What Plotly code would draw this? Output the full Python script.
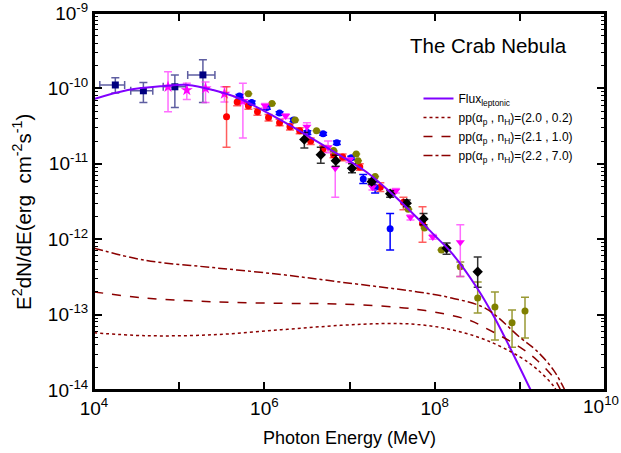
import plotly.graph_objects as go

# ---------------- data ----------------
# leptonic model curve
lep_E = [1e4, 2.5e4, 6.3e4, 1.26e5, 2.5e5, 5.0e5, 1.0e6, 2.5e6, 6.3e6, 1.58e7,
         3.16e7, 6.3e7, 1.0e8, 1.58e8, 3.16e8, 5.0e8, 7.9e8, 1.41e9]
lep_F = [7.2e-11, 9.5e-11, 1.07e-10, 1.11e-10, 9.5e-11, 7.4e-11, 5.0e-11, 2.8e-11,
         1.48e-11, 7.8e-12, 4.0e-12, 1.9e-12, 1.12e-12, 6.6e-13, 2.24e-13, 9.3e-14,
         3.4e-14, 8.9e-15]

# hadronic pp models
pp1_E = [1e4, 4.0e4, 2.5e5, 1.58e6, 7.9e6, 2.5e7, 6.3e7, 1.58e8, 4.0e8, 1.0e9, 1.58e9, 2.5e9, 2.8e9]
pp1_F = [5.75e-14, 5.25e-14, 5.4e-14, 6.3e-14, 7.2e-14, 7.6e-14, 7.4e-14, 6.3e-14,
         4.6e-14, 2.75e-14, 1.9e-14, 1.12e-14, 8.9e-15]
pp2_E = [1e4, 4.0e4, 2.5e5, 1.58e6, 7.9e6, 6.3e7, 2.5e8, 4.0e8, 1.0e9, 1.58e9, 2.5e9, 3.16e9]
pp2_F = [2.0e-13, 1.66e-13, 1.48e-13, 1.41e-13, 1.38e-13, 1.17e-13, 8.5e-14, 6.6e-14,
         3.7e-14, 2.5e-14, 1.45e-14, 8.9e-15]
pp3_E = [1e4, 4.0e4, 2.5e5, 1.58e6, 7.9e6, 6.3e7, 1.58e8, 4.0e8, 1.0e9, 1.58e9, 2.5e9, 3.55e9]
pp3_F = [7.6e-13, 5.25e-13, 4.2e-13, 3.4e-13, 2.7e-13, 2.0e-13, 1.66e-13, 1.2e-13,
         5.0e-14, 3.3e-14, 1.82e-14, 8.9e-15]

# navy squares (x and y errors)
nv_E = [1.78e4, 3.8e4, 8.9e4, 1.9e5]
nv_F = [1.11e-10, 9.3e-11, 1.05e-10, 1.51e-10]
nv_Fhi = [1.38e-10, 1.20e-10, 1.51e-10, 2.4e-10]
nv_Flo = [8.7e-11, 6.5e-11, 5.6e-11, 6.5e-11]
nv_Elo = [1.17e4, 2.7e4, 6.5e4, 1.26e5]
nv_Ehi = [2.29e4, 4.9e4, 1.2e5, 2.63e5]

# magenta stars
ms_E = [7.4e4, 1.23e5, 2.04e5, 3.4e5, 5.6e5]
ms_F = [1.05e-10, 9.5e-11, 1.0e-10, 8.5e-11, 6.8e-11]
ms_Fhi = [1.66e-10, 1.17e-10, 1.22e-10, 1.05e-10, 1.17e-10]
ms_Flo = [4.9e-11, 7.1e-11, 6.5e-11, 6.6e-11, 2.2e-11]

# magenta down-triangles
mt_E = [1.02e6, 1.78e6, 3.16e6, 5.6e6, 6.8e6, 1.0e7, 1.86e7, 3.5e7, 5.2e7, 9.5e7, 2.0e8]
mt_F = [5.9e-11, 4.3e-11, 3.1e-11, 1.66e-11, 8.7e-12, 1.12e-11, 4.9e-12, 4.4e-12,
        1.95e-12, 1.07e-12, 9.1e-13]
mt_Fhi = [6.3e-11, 4.6e-11, 3.5e-11, 2.0e-11, 9.1e-12, 1.2e-11, 5.3e-12, 4.7e-12,
          2.1e-12, 1.15e-12, 1.55e-12]
mt_Flo = [5.5e-11, 4.0e-11, 2.2e-11, 1.4e-11, 3.6e-12, 1.04e-11, 4.5e-12, 4.1e-12,
          1.8e-12, 1.0e-12, 3.2e-13]

# red circles
rd_E = [3.6e5, 4.8e5, 6.5e5, 8.3e5, 1.12e6, 1.51e6, 2.0e6, 2.6e6, 3.5e6, 4.9e6,
        6.5e6, 8.3e6, 1.32e7, 2.3e7, 4.3e7, 7.2e7]
rd_F = [4.2e-11, 6.6e-11, 5.9e-11, 4.9e-11, 4.1e-11, 3.5e-11, 3.1e-11, 2.75e-11,
        2.0e-11, 1.58e-11, 1.32e-11, 1.23e-11, 9.1e-12, 4.9e-12, 3.1e-12, 1.62e-12]
rd_Fhi = [1.05e-10, 7.8e-11, 6.5e-11, 5.4e-11, 4.5e-11, 3.9e-11, 3.4e-11, 3.0e-11,
          2.2e-11, 1.75e-11, 1.45e-11, 1.35e-11, 1.0e-11, 5.6e-12, 3.6e-12, 2.7e-12]
rd_Flo = [1.66e-11, 5.9e-11, 5.3e-11, 4.4e-11, 3.7e-11, 3.2e-11, 2.8e-11, 2.5e-11,
          1.8e-11, 1.42e-11, 1.2e-11, 1.1e-11, 8.2e-12, 4.3e-12, 2.45e-12, 9.1e-13]

# blue circles
bl_E = [5.1e5, 7.1e5, 1.07e6, 1.51e6, 2.2e6, 3.2e6, 4.9e6, 7.1e6, 1.05e7, 1.45e7, 2.0e7, 3.0e7]
bl_F = [7.9e-11, 6.5e-11, 5.6e-11, 4.7e-11, 3.8e-11, 2.6e-11, 2.5e-11, 1.9e-11,
        1.2e-11, 6.3e-12, 4.9e-12, 1.38e-12]
bl_Fhi = [8.3e-11, 6.8e-11, 5.9e-11, 4.9e-11, 4.0e-11, 2.75e-11, 2.6e-11, 2.0e-11,
          1.26e-11, 7.2e-12, 5.8e-12, 2.2e-12]
bl_Flo = [7.5e-11, 6.2e-11, 5.3e-11, 4.5e-11, 3.6e-11, 2.45e-11, 2.4e-11, 1.8e-11,
          1.14e-11, 5.5e-12, 4.1e-12, 7.2e-13]

# olive circles
ol_E = [6.5e5, 1.23e6, 2.3e6, 4.1e6, 6.5e6, 1.2e7, 1.26e7, 2.0e7, 3.2e7, 4.9e7,
        7.6e7, 1.2e8, 2.0e8, 3.2e8, 5.1e8, 8.1e8, 1.15e9]
ol_F = [8.5e-11, 6.3e-11, 3.8e-11, 2.75e-11, 1.5e-11, 1.35e-11, 1.1e-11, 6.8e-12,
        4.1e-12, 2.5e-12, 1.41e-12, 7.2e-13, 4.3e-13, 1.66e-13, 1.26e-13, 7.8e-14, 1.12e-13]
ol_Fhi = [8.5e-11, 6.3e-11, 3.8e-11, 2.75e-11, 1.5e-11, 1.35e-11, 1.1e-11, 6.8e-12,
          4.1e-12, 2.5e-12, 1.41e-12, 7.2e-13, 5.0e-13, 2.7e-13, 2.0e-13, 1.15e-13, 1.7e-13]
ol_Flo = [8.5e-11, 6.3e-11, 3.8e-11, 2.75e-11, 1.5e-11, 1.35e-11, 1.1e-11, 6.8e-12,
          4.1e-12, 2.5e-12, 1.41e-12, 7.2e-13, 3.2e-13, 1.05e-13, 4.6e-14, 3.7e-14, 4.9e-14]

# black diamonds
bk_E = [2.95e6, 4.6e6, 6.9e6, 1.07e7, 1.82e7, 3.0e7, 4.7e7, 7.4e7, 1.38e8, 3.2e8]
bk_F = [2.1e-11, 1.32e-11, 1.1e-11, 8.7e-12, 5.8e-12, 4.0e-12, 3.0e-12, 1.86e-12, 7.6e-13, 3.7e-13]
bk_Fhi = [2.6e-11, 1.66e-11, 1.3e-11, 1.0e-11, 6.3e-12, 4.4e-12, 3.3e-12, 2.2e-12, 8.9e-13, 5.8e-13]
bk_Flo = [1.62e-11, 1.02e-11, 9.3e-12, 7.6e-12, 5.3e-12, 3.6e-12, 2.7e-12, 1.55e-12, 6.3e-13, 2.3e-13]

x_tickvals = [1e4, 1e5, 1e6, 1e7, 1e8, 1e9, 1e10]
x_ticktext = ["10<sup>4</sup>", "", "10<sup>6</sup>", "", "10<sup>8</sup>", "", ""]
x_last_label = "10<sup>10</sup>"
y_tickvals = [1e-14, 1e-13, 1e-12, 1e-11, 1e-10, 1e-9]
y_ticktext = ["10<sup>-14</sup>", "10<sup>-13</sup>", "10<sup>-12</sup>",
              "10<sup>-11</sup>", "10<sup>-10</sup>", "10<sup>-9</sup>"]
y_minor_vals = [m * d for d in y_tickvals[:-1] for m in range(2, 10)]

FONT = "Liberation Sans, Arial, sans-serif"

fig = go.Figure()


def err_trace(E, F, Fhi, Flo, color, symbol, size, ecolor, Elo=None, Ehi=None):
    ey = dict(type="data", symmetric=False,
              array=[h - f for h, f in zip(Fhi, F)],
              arrayminus=[f - l for f, l in zip(F, Flo)],
              color=ecolor, thickness=1.5, width=4)
    kw = {}
    if Elo is not None:
        kw["error_x"] = dict(type="data", symmetric=False,
                             array=[h - e for h, e in zip(Ehi, E)],
                             arrayminus=[e - l for e, l in zip(E, Elo)],
                             color=ecolor, thickness=1.5, width=4)
    fig.add_trace(go.Scatter(x=E, y=F, mode="markers", showlegend=False,
                             marker=dict(color=color, symbol=symbol, size=size,
                                         line=dict(width=0)),
                             error_y=ey, **kw))


err_trace(nv_E, nv_F, nv_Fhi, nv_Flo, "#000080", "square", 7, "rgba(40,40,130,0.75)", nv_Elo, nv_Ehi)
err_trace(ms_E, ms_F, ms_Fhi, ms_Flo, "#FF00FF", "star", 9, "rgba(255,60,255,0.75)")
err_trace(rd_E, rd_F, rd_Fhi, rd_Flo, "#FF0000", "circle", 7, "rgba(255,40,40,0.75)")
err_trace(bl_E, bl_F, bl_Fhi, bl_Flo, "#0000FF", "circle", 7, "#0000FF")
err_trace(ol_E, ol_F, ol_Fhi, ol_Flo, "#808000", "circle", 7, "rgba(128,128,0,0.8)")
err_trace(mt_E, mt_F, mt_Fhi, mt_Flo, "#FF00FF", "triangle-down", 8, "rgba(255,60,255,0.75)")
err_trace(bk_E, bk_F, bk_Fhi, bk_Flo, "#000000", "diamond", 8, "rgba(0,0,0,0.8)")

fig.add_trace(go.Scatter(x=lep_E, y=lep_F, mode="lines", line_shape="spline",
                         line=dict(color="#8000FF", width=2),
                         name="Flux<sub>leptonic</sub>"))
fig.add_trace(go.Scatter(x=pp1_E, y=pp1_F, mode="lines", line_shape="spline",
                         line=dict(color="#8B0000", width=1.5, dash="dot"),
                         name="pp(α<sub>p</sub> , n<sub>H</sub>)=(2.0 , 0.2)"))
fig.add_trace(go.Scatter(x=pp2_E, y=pp2_F, mode="lines", line_shape="spline",
                         line=dict(color="#8B0000", width=1.5, dash="dash"),
                         name="pp(α<sub>p</sub> , n<sub>H</sub>)=(2.1 , 1.0)"))
fig.add_trace(go.Scatter(x=pp3_E, y=pp3_F, mode="lines", line_shape="spline",
                         line=dict(color="#8B0000", width=1.5, dash="dashdot"),
                         name="pp(α<sub>p</sub> , n<sub>H</sub>)=(2.2 , 7.0)"))

# empty trace so the top/right mirror axes get drawn
fig.add_trace(go.Scatter(x=[None], y=[None], xaxis="x2", yaxis="y2", mode="markers",
                         showlegend=False, hoverinfo="skip"))

axis_common = dict(type="log", showline=True, linecolor="black", linewidth=2,
                   ticks="inside", tickcolor="black", tickwidth=1.5,
                   showgrid=False, zeroline=False, automargin=False,
                   ticklabeloverflow="allow",
                   tickfont=dict(family=FONT, size=19, color="black"))
y_minor = dict(tickmode="array", tickvals=y_minor_vals, ticks="inside", ticklen=4,
               tickcolor="black", tickwidth=1, showgrid=False)

fig.update_layout(
    xaxis=dict(**axis_common, range=[4, 10], tickvals=x_tickvals, ticktext=x_ticktext,
               ticklen=8,
               title=dict(text="Photon Energy (MeV)",
                          font=dict(family=FONT, size=18, color="black"), standoff=14)),
    yaxis=dict(**axis_common, range=[-14, -9], tickvals=y_tickvals, ticktext=y_ticktext,
               ticklen=8, minor=y_minor),
    xaxis2=dict(**axis_common, range=[4, 10], tickvals=x_tickvals, ticklen=8,
                overlaying="x", side="top", anchor="y", showticklabels=False),
    yaxis2=dict(**axis_common, range=[-14, -9], tickvals=y_tickvals, ticklen=8,
                minor=y_minor, overlaying="y", side="right", anchor="x",
                showticklabels=False),
)

# frame of the plot area
fig.add_shape(type="rect", xref="paper", yref="paper", x0=0, y0=0, x1=1, y1=1,
              line=dict(color="black", width=2), layer="above")

# last x tick label, nudged left so it stays inside the page
fig.add_annotation(text=x_last_label, xref="x", yref="paper", x=10, y=0,
                   xanchor="center", yanchor="top", xshift=-4, yshift=-1,
                   showarrow=False, font=dict(family=FONT, size=19, color="black"))

# y-axis title placed as rotated text beside the axis
fig.add_annotation(text="E<sup>2</sup>dN/dE(erg  cm<sup>-2</sup>s<sup>-1</sup>)",
                   xref="paper", yref="paper", x=-0.141, y=0.472, textangle=-90,
                   xanchor="center", yanchor="middle", showarrow=False,
                   font=dict(family=FONT, size=20.5, color="black"))

fig.add_annotation(text="The Crab Nebula", xref="paper", yref="paper", x=0.772, y=0.915,
                   xanchor="center", yanchor="middle",
                   showarrow=False, font=dict(family=FONT, size=20.5, color="black"))

fig.update_layout(
    width=621, height=453,
    margin=dict(l=94, r=16, t=13, b=63),
    paper_bgcolor="white", plot_bgcolor="white",
    legend=dict(x=0.635, y=0.812, xanchor="left", yanchor="top",
                bgcolor="rgba(0,0,0,0)", font=dict(family=FONT, size=12, color="black"),
                itemwidth=30, tracegroupgap=0),
)

fig.write_html("out.html", config={"displayModeBar": False},
               post_script="document.body.style.margin='0';")
